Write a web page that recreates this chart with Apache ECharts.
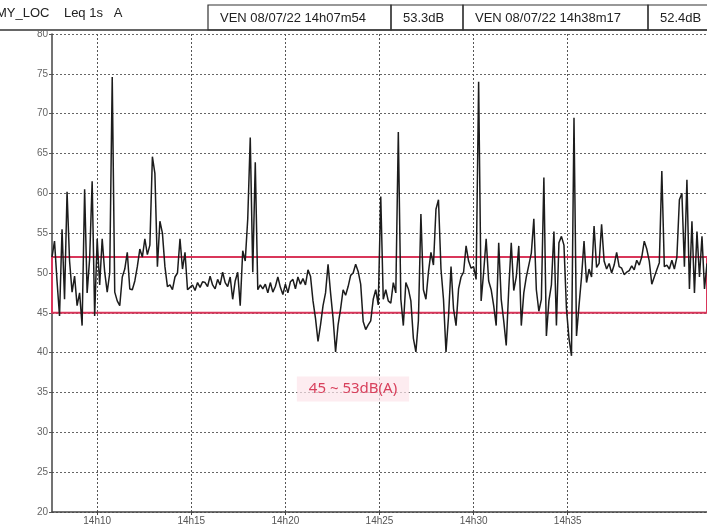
<!DOCTYPE html>
<html><head><meta charset="utf-8">
<script src="https://cdn.jsdelivr.net/npm/echarts@6/dist/echarts.min.js"></script>
<style>html,body{margin:0;padding:0;background:#fff}#c{width:707px;height:530px}</style>
</head><body><div id="c"></div>
<script>
// time base: seconds after 14h00m00, one reading every stepSec seconds
const baseHour = 14;
const startSec = 456;
const stepSec = 8;
const levels = [
  52, 54, 49, 44.6, 55.5, 46.7, 60.2, 51.5, 47.6, 49.6,
  45.9, 47.5, 43.4, 60.5, 47.5, 51.8, 61.5, 44.6, 54.3, 48.5,
  54.3, 50.1, 47.6, 50, 74.6, 47.6, 46.5, 45.9, 49.5, 50.5,
  52.6, 48, 47.9, 49, 50.8, 53, 52, 54.3, 52.3, 53.5,
  64.6, 62.5, 50.8, 56.5, 55, 50.8, 48.3, 48.5, 47.9, 49.5,
  50, 54.3, 50.5, 52.6, 47.9, 48.2, 48.5, 47.8, 48.8, 48.2,
  48.9, 48.8, 48.3, 49.6, 48.5, 48, 49.2, 48.5, 50.1, 48.8,
  48.3, 49.5, 46.7, 49, 50.1, 45.9, 52.8, 51.5, 56.8, 67,
  50.1, 63.9, 47.9, 48.5, 48, 48.6, 47.5, 48.8, 47.6, 48.3,
  49.5, 48.2, 47.3, 48.6, 47.5, 48.9, 49.2, 48, 49.5, 48.6,
  49.3, 48.5, 50.4, 49.6, 46.5, 44.3, 41.4, 43.5, 45.9, 47.5,
  51.1, 47.5, 44.3, 40.1, 43.5, 45.5, 47.9, 47.2, 48.3, 49.7,
  50, 51.1, 50.2, 48.6, 43.9, 42.9, 43.5, 44, 46.7, 47.9,
  46, 59.6, 46.7, 47.9, 46.5, 46.2, 48.8, 47.5, 67.7, 46.7,
  43.4, 48.8, 48, 46.5, 41.8, 40.1, 44, 57.4, 47.9, 46.7,
  50.1, 52.6, 51, 58, 59.2, 50.5, 46.7, 40.1, 44.5, 50.8,
  45.5, 43.4, 48, 49.5, 50.1, 53.4, 51.5, 50.6, 50.8, 49.2,
  74, 46.5, 50.1, 54.3, 49, 47.9, 45.9, 43.4, 53.8, 46.7,
  44, 40.9, 48, 53.8, 47.8, 49.5, 53.4, 43.4, 47.5, 49.5,
  51, 52.5, 56.8, 47.9, 45.2, 46.7, 62, 42.1, 46.5, 48.5,
  55.2, 43.4, 53.8, 54.6, 53.5, 45.5, 41.8, 39.6, 69.5, 42.1,
  45.9, 49.5, 54, 48.8, 50.5, 49.5, 55.9, 50.7, 51.2, 56.1,
  51.5, 50.5, 51.2, 50, 51, 52.6, 50.8, 50.6, 49.8, 50.1,
  50.3, 50.9, 50.4, 51.6, 51, 52, 54, 53, 51.5, 48.6,
  49.5, 50.4, 51.3, 62.8, 50.8, 51, 50.5, 51.6, 50.5, 52,
  59.2, 60, 50.8, 61.7, 48, 56.5, 47.5, 55.2, 49.5, 54.6,
  48, 51.2
];
const xTickSecs = [600, 900, 1200, 1500, 1800, 2100];
const yMin = 20, yMax = 80, yStep = 5;
const bandLow = 45, bandHigh = 52;
const bandLabel = '45 ~ 53dB(A)';
const headerLeft = 'MY_LOC    Leq 1s   A';
const headerBoxes = ['VEN 08/07/22 14h07m54', '53.3dB', 'VEN 08/07/22 14h38m17', '52.4dB'];

const data = levels.map((v, i) => [startSec + i * stepSec, v]);
const xMin = startSec, xMax = startSec + (levels.length - 1) * stepSec;
const fmt = v => baseHour + 'h' + String(Math.round(v / 60)).padStart(2, '0');

const chart = echarts.init(document.getElementById('c'), null, {renderer: 'canvas'});
const hdrFont = "13px 'Liberation Sans Narrow', 'Liberation Sans', Arial, sans-serif";
const boxEdges = [208, 391, 463, 648, 712];
const graphics = [
  {type: 'line', shape: {x1: 0, y1: 30, x2: 707, y2: 30}, style: {stroke: '#333', lineWidth: 1.5}},
  {type: 'text', left: -4, top: 7, style: {text: headerLeft, font: hdrFont, fill: '#222'}}
];
headerBoxes.forEach((t, i) => {
  graphics.push({type: 'rect', shape: {x: boxEdges[i], y: 5, width: boxEdges[i + 1] - boxEdges[i], height: 25},
    style: {fill: 'none', stroke: '#333', lineWidth: 1.2}});
  graphics.push({type: 'text', x: boxEdges[i] + 12, y: 18,
    style: {text: t, font: hdrFont, fill: '#222', verticalAlign: 'middle'}});
});
graphics.push({type: 'text', x: 353, y: 389, z: 10,
  style: {text: bandLabel, font: "15px 'Noto Sans', sans-serif", fill: '#d8405c',
    align: 'center', verticalAlign: 'middle', backgroundColor: 'rgba(252,228,233,0.7)', padding: [5, 12]}});

chart.setOption({
  animation: false,
  backgroundColor: '#fff',
  grid: {left: 52, right: 0, top: 34, bottom: 18, containLabel: false},
  xAxis: {
    type: 'value', min: xMin, max: xMax,
    axisLine: {show: true, lineStyle: {color: '#444', width: 1.5}},
    axisTick: {show: true, customValues: xTickSecs, length: 3, lineStyle: {color: '#444'}},
    axisLabel: {customValues: xTickSecs, formatter: fmt, color: '#555', fontSize: 10, margin: 4,
      fontFamily: "'Liberation Sans Narrow', 'Liberation Sans', Arial"},
    splitLine: {show: true, lineStyle: {color: '#555', type: [2, 2], width: 1}}
  },
  yAxis: {
    type: 'value', min: yMin, max: yMax, interval: yStep,
    axisLine: {show: true, lineStyle: {color: '#444', width: 1.5}},
    axisTick: {show: true, length: 3, lineStyle: {color: '#555'}},
    axisLabel: {color: '#666', fontSize: 10, margin: 4, fontFamily: "'Liberation Sans Narrow', 'Liberation Sans', Arial"},
    splitLine: {show: true, lineStyle: {color: '#666', type: [2, 2], width: 1}}
  },
  graphic: graphics,
  series: [{
    type: 'line', data: data, showSymbol: false, symbol: 'none',
    lineStyle: {color: '#1c1c1c', width: 1.5}, sampling: null,
    markArea: {silent: true, itemStyle: {color: 'rgba(0,0,0,0)', borderColor: '#d9365a', borderWidth: 2},
      data: [[{xAxis: xMin, yAxis: bandLow}, {xAxis: xMax, yAxis: bandHigh}]]}
  }]
});
</script></body></html>
